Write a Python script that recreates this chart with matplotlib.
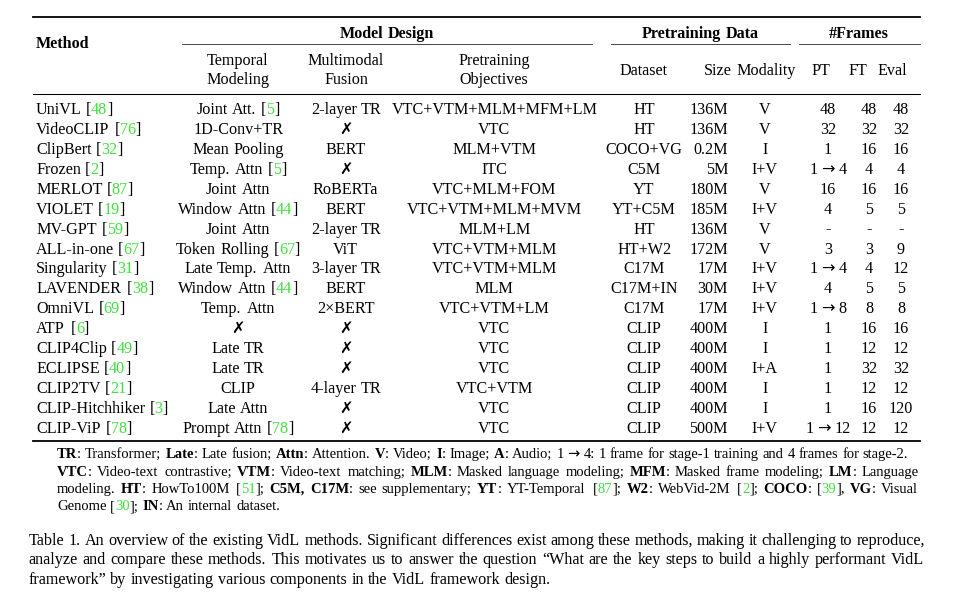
import matplotlib

matplotlib.use("Agg")
import matplotlib.pyplot as plt
from matplotlib import font_manager
from matplotlib.font_manager import FontProperties
from matplotlib.ft2font import FT2Font

try:
    from matplotlib.ft2font import LoadFlags
    NO_HINT = LoadFlags.NO_HINTING
except ImportError:
    from matplotlib.ft2font import LOAD_NO_HINTING as NO_HINT

# ---- table data (markup: *bold*, {green citation}) ----
methods = [
    "UniVL [{48}]", "VideoCLIP [{76}]", "ClipBert [{32}]", "Frozen [{2}]",
    "MERLOT [{87}]", "VIOLET [{19}]", "MV-GPT [{59}]", "ALL-in-one [{67}]",
    "Singularity [{31}]", "LAVENDER [{38}]", "OmniVL [{69}]", "ATP [{6}]",
    "CLIP4Clip [{49}]", "ECLIPSE [{40}]", "CLIP2TV [{21}]",
    "CLIP-Hitchhiker [{3}]", "CLIP-ViP [{78}]",
]
temporal = [
    "Joint Att. [{5}]", "1D-Conv+TR", "Mean Pooling", "Temp. Attn [{5}]",
    "Joint Attn", "Window Attn [{44}]", "Joint Attn", "Token Rolling [{67}]",
    "Late Temp. Attn", "Window Attn [{44}]", "Temp. Attn", "✗", "Late TR",
    "Late TR", "CLIP", "Late Attn", "Prompt Attn [{78}]",
]
fusion = [
    "2-layer TR", "✗", "BERT", "✗", "RoBERTa", "BERT", "2-layer TR", "ViT",
    "3-layer TR", "BERT", "2×BERT", "✗", "✗", "✗", "4-layer TR", "✗", "✗",
]
objectives = [
    "VTC+VTM+MLM+MFM+LM", "VTC", "MLM+VTM", "ITC", "VTC+MLM+FOM",
    "VTC+VTM+MLM+MVM", "MLM+LM", "VTC+VTM+MLM", "VTC+VTM+MLM", "MLM",
    "VTC+VTM+LM", "VTC", "VTC", "VTC", "VTC+VTM", "VTC", "VTC",
]
dataset = [
    "HT", "HT", "COCO+VG", "C5M", "YT", "YT+C5M", "HT", "HT+W2", "C17M",
    "C17M+IN", "C17M", "CLIP", "CLIP", "CLIP", "CLIP", "CLIP", "CLIP",
]
data_size = [
    "136M", "136M", "0.2M", "5M", "180M", "185M", "136M", "172M", "17M",
    "30M", "17M", "400M", "400M", "400M", "400M", "400M", "500M",
]
modality = [
    "V", "V", "I", "I+V", "V", "I+V", "V", "V", "I+V", "I+V", "I+V", "I",
    "I", "I+A", "I", "I", "I+V",
]
frames_pt = [
    "48", "32", "1", "1 → 4", "16", "4", "-", "3", "1 → 4", "4", "1 → 8",
    "1", "1", "1", "1", "1", "1 → 12",
]
frames_ft = [
    "48", "32", "16", "4", "16", "5", "-", "3", "4", "5", "8", "16", "12",
    "32", "12", "16", "12",
]
frames_eval = [
    "48", "32", "16", "4", "16", "5", "-", "9", "12", "5", "8", "16", "12",
    "32", "12", "120", "12",
]

group_headers = ["Model Design", "Pretraining Data", "#Frames"]
sub_headers = [
    "Temporal\nModeling", "Multimodal\nFusion", "Pretraining\nObjectives",
    "Dataset", "Size", "Modality", "PT", "FT", "Eval",
]

footnote = [
    "*TR*: Transformer; *Late*: Late fusion; *Attn*: Attention. *V*: Video; "
    "*I*: Image; *A*: Audio; 1 → 4: 1 frame for stage-1 training and 4 frames for stage-2.",
    "*VTC*: Video-text contrastive; *VTM*: Video-text matching; *MLM*: Masked "
    "language modeling; *MFM*: Masked frame modeling; *LM*: Language",
    "modeling. *HT*: HowTo100M [{51}]; *C5M, C17M*: see supplementary; *YT*: "
    "YT-Temporal [{87}]; *W2*: WebVid-2M [{2}]; *COCO*: [{39}], *VG*: Visual",
    "Genome [{30}]; *IN*: An internal dataset.",
]
caption = [
    "Table 1. An overview of the existing VidL methods. Significant differences "
    "exist among these methods, making it challenging to reproduce,",
    "analyze and compare these methods. This motivates us to answer the question "
    "“What are the key steps to build a highly performant VidL",
    "framework” by investigating various components in the VidL framework design.",
]

SERIF = ["Liberation Serif", "DejaVu Sans"]
SYMBOLS = {"→", "✗"}  # drawn with DejaVu Sans
GREEN = "#3ee23e"
TABLE_FS = 11.6
NOTE_FS = 10.5
CAP_FS = 11.65
DPI = 100

fig = plt.figure(figsize=(9.56, 6.0), dpi=DPI)
ax = fig.add_axes([0, 0, 1, 1])
ax.set_xlim(0, 956)
ax.set_ylim(600, 0)
ax.axis("off")

# fonts used to measure advance widths (pixels)
_fonts = {
    False: FT2Font(font_manager.findfont(FontProperties(family="Liberation Serif"))),
    True: FT2Font(font_manager.findfont(
        FontProperties(family="Liberation Serif", weight="bold"))),
}
_fallback = FT2Font(font_manager.findfont(FontProperties(family="DejaVu Sans")))


def text_width(s, size, bold=False):
    w = 0.0
    for ch in s:
        font = _fonts[bold]
        if ch in SYMBOLS or font.get_char_index(ord(ch)) == 0:
            font = _fallback
        font.set_size(size, DPI)
        glyph = font.load_char(ord(ch), flags=NO_HINT)
        w += glyph.linearHoriAdvance / 65536
    return w


def parse(markup):
    """Split markup into words; each word is a list of (text, bold, green) runs."""
    words, runs, buf = [], [], ""
    bold = green = False

    def flush():
        nonlocal buf
        if buf:
            runs.append((buf, bold, green))
        buf = ""

    for ch in markup:
        if ch in "*{}":
            flush()
            if ch == "*":
                bold = not bold
            else:
                green = ch == "{"
        elif ch == " ":
            flush()
            if runs:
                words.append(runs)
            runs = []
        else:
            buf += ch
    flush()
    if runs:
        words.append(runs)
    return words


def draw_line(x, y, markup, size, align="left", right=None):
    words = parse(markup)
    widths = [sum(text_width(s, size, b) for s, b, _ in w) for w in words]
    sp = text_width(" ", size)
    total = sum(widths) + sp * (len(words) - 1)
    start = x
    if align == "justify":
        sp = (right - x - sum(widths)) / (len(words) - 1)
    elif align == "center":
        start = x - total / 2
    elif align == "right":
        start = x - total
    cx = start
    for w, ww in zip(words, widths):
        px = cx
        for s, b, g in w:
            fam = ["DejaVu Sans"] if s in SYMBOLS else SERIF
            ax.text(px, y, s, fontsize=size, family=fam, va="baseline",
                    ha="left", fontweight="bold" if b else "normal",
                    color=GREEN if g else "black")
            px += text_width(s, size, b)
        cx += ww + sp


# ---- rules ----
left, right = 33, 920
ax.plot([left, right], [16.5, 16.5], color="black", lw=1.3)
ax.plot([left, right], [94.3, 94.3], color="black", lw=0.75)
ax.plot([left, right], [441, 441], color="black", lw=1.3)
for x0, x1 in [(182, 592), (611, 790), (799, 920)]:
    ax.plot([x0, x1], [44, 44], color="#444444", lw=0.7)

# ---- header ----
draw_line(36, 47.5, "*Method*", TABLE_FS)
for label, cx in zip(group_headers, [387, 700, 859]):
    draw_line(cx, 37.5, f"*{label}*", TABLE_FS, align="center")

sub_x = [238, 346, 494, 644, 732, 766, 821, 858, 892]
sub_align = ["center"] * 4 + ["right"] + ["center"] * 4
for label, cx, al in zip(sub_headers, sub_x, sub_align):
    lines = label.split("\n")
    if len(lines) == 2:
        draw_line(cx, 65, lines[0], TABLE_FS, align=al)
        draw_line(cx, 83.5, lines[1], TABLE_FS, align=al)
    else:
        draw_line(cx, 75, lines[0], TABLE_FS, align=al)

# ---- body ----
columns = [temporal, fusion, objectives, dataset, data_size, modality,
           frames_pt, frames_ft, frames_eval]
col_x = [238, 346, 494, 644, 728, 765, 828, 869, 901]
col_align = ["center"] * 4 + ["right"] + ["center"] * 4
row_y0, row_step = 114, 19.93
for i, name in enumerate(methods):
    y = row_y0 + i * row_step
    draw_line(36, y, name, TABLE_FS)
    for col, cx, al in zip(columns, col_x, col_align):
        draw_line(cx, y, col[i], TABLE_FS, align=al)

# ---- footnote ----
note_align = ["left", "justify", "justify", "left"]
for i, (line, al) in enumerate(zip(footnote, note_align)):
    draw_line(57, 458.3 + i * 17.3, line, NOTE_FS, align=al, right=919)

# ---- caption ----
cap_align = ["justify", "justify", "left"]
for i, (line, al) in enumerate(zip(caption, cap_align)):
    draw_line(28.5, 545 + i * 19.4, line, CAP_FS, align=al, right=925)

fig.savefig("out.png", dpi=DPI, facecolor="white")
